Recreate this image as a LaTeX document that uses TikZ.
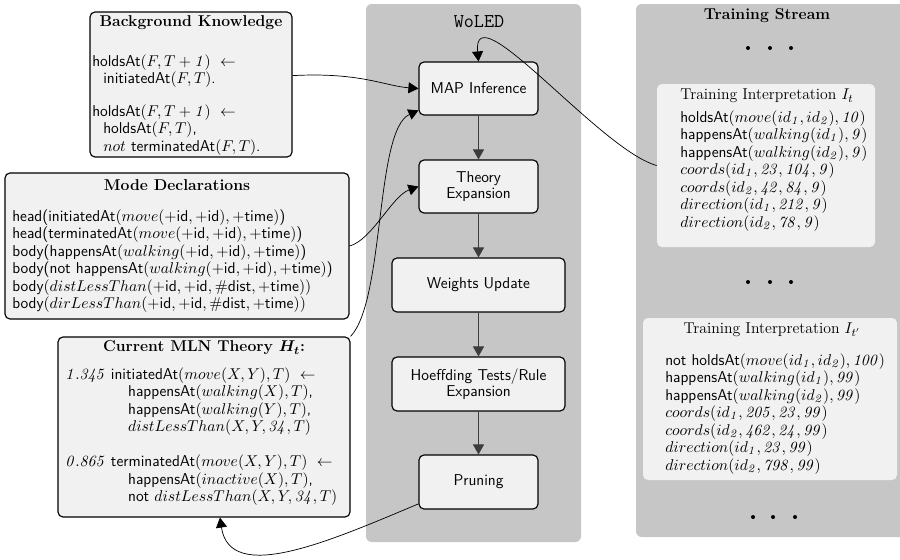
\documentclass[tikz,border=0pt]{standalone}
\usetikzlibrary{arrows.meta}
\definecolor{panelgray}{RGB}{197,198,197}
\definecolor{boxfill}{RGB}{241,241,241}
\definecolor{linegray}{RGB}{60,60,60}
\tikzset{
 box/.style={draw=black, line width=0.8pt, fill=boxfill, rounded corners=3.5pt, inner sep=0pt},
 flowbox/.style={box, font=\sffamily\fontsize{11}{11.5}\selectfont, align=center},
 ibox/.style={fill=boxfill, rounded corners=3.5pt, inner sep=0pt},
 ttl/.style={font=\bfseries\fontsize{11}{12}\selectfont, inner sep=0pt},
 ititle/.style={font=\rmfamily\fontsize{11}{12}\selectfont, inner sep=0pt},
 txt/.style={font=\sffamily\fontsize{11}{12.25}\selectfont, align=left, inner sep=0pt, anchor=north west},
 flow/.style={draw=linegray, line width=0.6pt, -{Triangle[length=7pt,width=7.7pt]}},
 link/.style={draw=black, line width=0.5pt, -{Triangle[length=7pt,width=7.7pt]}},
 sdot/.style={circle, fill=black, inner sep=0pt, minimum size=2.8pt},
}
\begin{document}
\begin{tikzpicture}[x=0.7pt,y=-0.7pt]
\useasboundingbox (0,0) rectangle (900,559);
\begin{scope}
\clip (0,0) rectangle (900,559);
\fill[panelgray, rounded corners=4pt] (366,4) rectangle (581,542);
\fill[panelgray, rounded corners=4pt] (636,4) rectangle (912,537);
\end{scope}

% titles of panels
\node[font=\ttfamily\fontsize{13.7}{16}\selectfont, inner sep=0pt] (woledttl) at (479,22) {WoLED};
\node[ttl] (tsttl) at (767,16) {Training Stream};

% flow boxes
\node[flowbox, minimum width=83.3pt, minimum height=37.1pt] (map) at (478.5,88.5) {MAP Inference};
\node[flowbox, minimum width=83.3pt, minimum height=37.1pt] (theory) at (478.5,186.5) {Theory\\Expansion};
\node[flowbox, minimum width=121.1pt, minimum height=37.8pt] (weights) at (478.5,285) {Weights Update};
\node[flowbox, minimum width=121.1pt, minimum height=37.8pt] (hoeff) at (478.5,384) {Hoeffding Tests/Rule\\Expansion};
\node[flowbox, minimum width=83.3pt, minimum height=37.8pt] (prune) at (478.5,482) {Pruning};

% background knowledge
\node[box, minimum width=141.4pt, minimum height=101.5pt] (bk) at (191,84.5) {};
\node[ttl] (bkttl) at (191,23) {Background Knowledge};
\node[txt] (bktxt) at (92,54) {holdsAt$(F, T+\mathit{1})\ \leftarrow$\\
\hspace*{7.7pt}initiatedAt$(F, T)$.\\[10.8pt]
holdsAt$(F, T+\mathit{1})\ \leftarrow$\\
\hspace*{7.7pt}holdsAt$(F, T)$,\\
\hspace*{7.7pt}$not$ terminatedAt$(F, T)$.};

% mode declarations
\node[box, minimum width=240.8pt, minimum height=102.2pt] (mode) at (177,246) {};
\node[ttl] (modettl) at (177,185) {Mode Declarations};
\node[txt] (modetxt) at (12,209) {head(initiatedAt$(move(+\mathsf{id}, +\mathsf{id}), +\mathsf{time})$)\\
head(terminatedAt$(move(+\mathsf{id}, +\mathsf{id}), +\mathsf{time})$)\\
body(happensAt$(walking(+\mathsf{id}, +\mathsf{id}), +\mathsf{time})$)\\
body(not happensAt$(walking(+\mathsf{id}, +\mathsf{id}), +\mathsf{time})$)\\
body$(distLessThan(+\mathsf{id}, +\mathsf{id}, \#\mathsf{dist}, +\mathsf{time}))$\\
body$(dirLessThan(+\mathsf{id}, +\mathsf{id}, \#\mathsf{dist}, +\mathsf{time}))$};

% current MLN theory
\node[box, minimum width=204.4pt, minimum height=126pt] (mln) at (204,427) {};
\node[ttl] (mlnttl) at (204,348) {Current MLN Theory {\boldmath$H_t$}:};
\node[txt] (mlntxt) at (65,367) {$\mathit{1.345}$ initiatedAt$(move(X, Y), T)\ \leftarrow$\\
\hspace*{44pt}happensAt$(walking(X), T)$,\\
\hspace*{44pt}happensAt$(walking(Y), T)$,\\
\hspace*{44pt}$distLessThan(X, Y, \mathit{34}, T)$\\[12.25pt]
$\mathit{0.865}$ terminatedAt$(move(X, Y), T)\ \leftarrow$\\
\hspace*{44pt}happensAt$(inactive(X), T)$,\\
\hspace*{44pt}not $distLessThan(X, Y, \mathit{34}, T)$};

% training interpretations
\node[ibox, minimum width=152.6pt, minimum height=114.1pt] (it) at (766,165.5) {};
\node[ititle] (itttl) at (767,96) {Training Interpretation $I_t$};
\node[txt] (ittxt) at (680,110) {holdsAt$(move(id_{\mathit{1}}, id_{\mathit{2}}), \mathit{10})$\\
happensAt$(walking(id_{\mathit{1}}), \mathit{9})$\\
happensAt$(walking(id_{\mathit{2}}), \mathit{9})$\\
$coords(id_{\mathit{1}}, \mathit{23}, \mathit{104}, \mathit{9})$\\
$coords(id_{\mathit{2}}, \mathit{42}, \mathit{84}, \mathit{9})$\\
$direction(id_{\mathit{1}}, \mathit{212}, \mathit{9})$\\
$direction(id_{\mathit{2}}, \mathit{78}, \mathit{9})$};

\node[ibox, minimum width=177.8pt, minimum height=113.4pt] (itp) at (770,399) {};
\node[ititle] (itpttl) at (772,330) {Training Interpretation $I_{t'}$};
\node[txt] (itptxt) at (665,353) {not holdsAt$(move(id_{\mathit{1}}, id_{\mathit{2}}), \mathit{100})$\\
happensAt$(walking(id_{\mathit{1}}), \mathit{99})$\\
happensAt$(walking(id_{\mathit{2}}), \mathit{99})$\\
$coords(id_{\mathit{1}}, \mathit{205}, \mathit{23}, \mathit{99})$\\
$coords(id_{\mathit{2}}, \mathit{462}, \mathit{24}, \mathit{99})$\\
$direction(id_{\mathit{1}}, \mathit{23}, \mathit{99})$\\
$direction(id_{\mathit{2}}, \mathit{798}, \mathit{99})$};

% dots
\node[sdot] (d1a) at (748,48) {};
\node[sdot] (d1b) at (770,48) {};
\node[sdot] (d1c) at (791,48) {};
\node[sdot] (d2a) at (748,282) {};
\node[sdot] (d2b) at (770,282) {};
\node[sdot] (d2c) at (791,282) {};
\node[sdot] (d3a) at (753,517) {};
\node[sdot] (d3b) at (773,517) {};
\node[sdot] (d3c) at (795,517) {};

% flow arrows
\draw[flow] (map.south) -- (theory.north);
\draw[flow] (theory.south) -- (weights.north);
\draw[flow] (weights.south) -- (hoeff.north);
\draw[flow] (hoeff.south) -- (prune.north);

% links
\draw[link] (bk.5) .. controls (360,72) and (385,86) .. (map.west);
\draw[link] (mode.east) .. controls (372,240) and (392,196) .. (theory.west);
\draw[link] (mln.north east) .. controls (385,300) and (375,130) .. (map.200);
\draw[link] (prune.200) .. controls (330,541) and (230,585) .. (mln.-80);
\draw[link] (it.west) .. controls (600,150) and (472,-10) .. (map.north);
\end{tikzpicture}
\end{document}
